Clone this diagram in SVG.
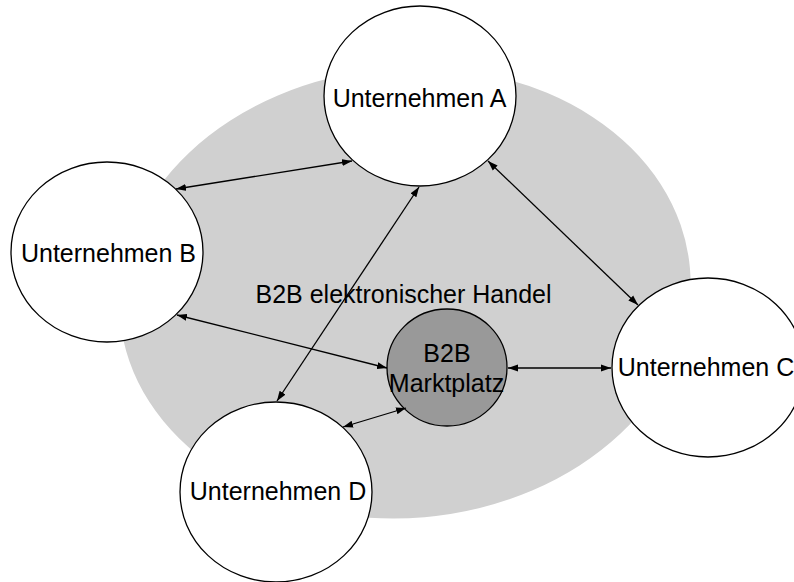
<svg xmlns="http://www.w3.org/2000/svg" width="794" height="582" viewBox="0 0 794 582">
<style>
.node{fill:#ffffff;stroke:#000;stroke-width:1.3}
.hub{fill:#999999;stroke:#000;stroke-width:1.3}
.t{font-family:"Liberation Sans",Arial,sans-serif;font-size:25px;fill:#000;text-anchor:middle}
.c{stroke:#000;stroke-width:1.3;fill:none;marker-start:url(#ah);marker-end:url(#ah)}
</style>
<defs>
<marker id="ah" markerUnits="userSpaceOnUse" markerWidth="11" markerHeight="8" refX="10" refY="3.5" orient="auto-start-reverse" viewBox="0 0 11 7">
<path d="M0,0 L10,3.5 L0,7 z" fill="#000"/>
</marker>
</defs>
<rect width="794" height="582" fill="#ffffff"/>
<g id="bereich">
<ellipse cx="405" cy="293" rx="286" ry="225" transform="rotate(-5 405 293)" fill="#d0d0d0"/>
<text class="t" x="403.5" y="303">B2B elektronischer Handel</text>
</g>
<g id="nodeA"><ellipse class="node" cx="420" cy="96" rx="96" ry="90"/><text class="t" x="419.5" y="107">Unternehmen A</text></g>
<g id="nodeB"><ellipse class="node" cx="107" cy="252" rx="96" ry="90"/><text class="t" x="108.5" y="262">Unternehmen B</text></g>
<g id="nodeC"><ellipse class="node" cx="708" cy="367.5" rx="96" ry="89.5"/><text class="t" x="706" y="376">Unternehmen C</text></g>
<g id="nodeD"><ellipse class="node" cx="276" cy="492" rx="96" ry="90"/><text class="t" x="278" y="500">Unternehmen D</text></g>
<g id="marktplatz"><ellipse class="hub" cx="447" cy="367.5" rx="60" ry="58.5"/><text class="t" x="447" y="362">B2B</text><text class="t" x="446.5" y="392">Marktplatz</text></g>
<g id="connectors">
<line class="c" x1="176" y1="189" x2="352" y2="161"/>
<line class="c" x1="419" y1="187" x2="277" y2="401"/>
<line class="c" x1="488" y1="161" x2="638" y2="305"/>
<line class="c" x1="177" y1="315" x2="387" y2="368"/>
<line class="c" x1="508" y1="368" x2="611" y2="368"/>
<line class="c" x1="343" y1="427" x2="406" y2="408"/>
</g>
</svg>
